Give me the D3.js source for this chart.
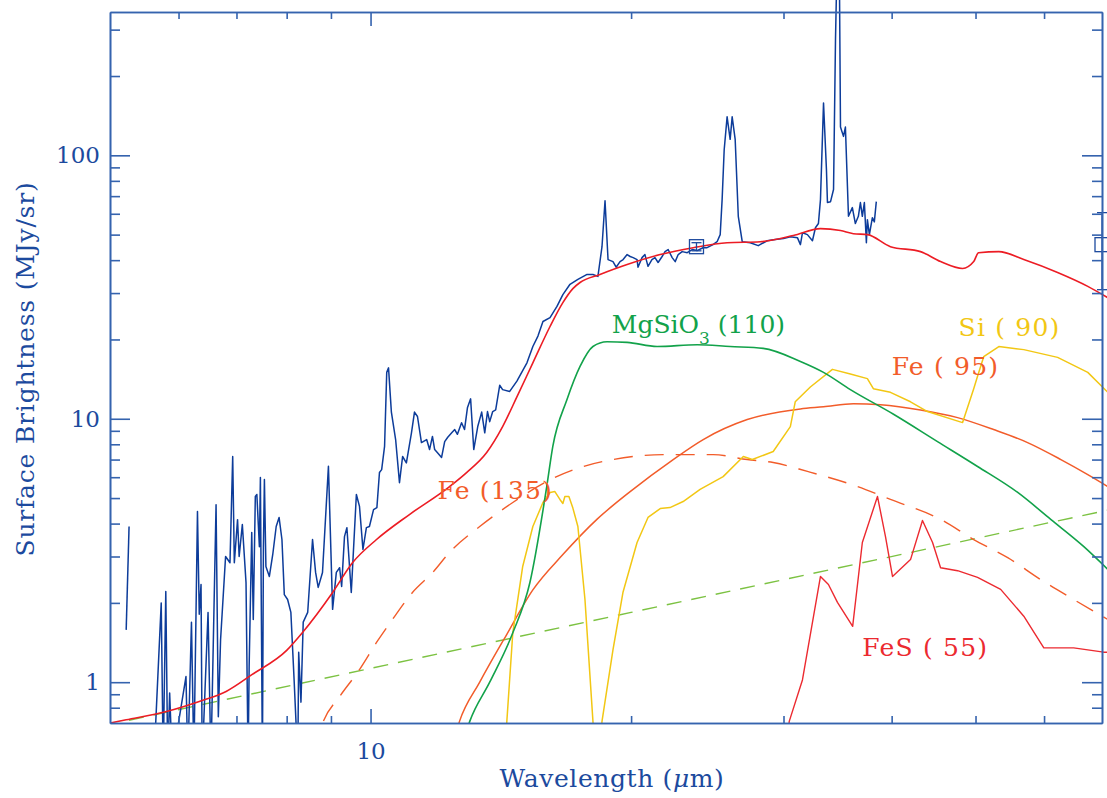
<!DOCTYPE html>
<html>
<head>
<meta charset="utf-8">
<script src="https://cdn.jsdelivr.net/npm/d3@7"></script>
<style>
  body { margin: 0; background: #fff; }
  svg { display: block; }
</style>
</head>
<body>
<svg id="chart" width="1107" height="798"></svg>
<script>
// ---- data (wavelength in micron, surface brightness in MJy/sr) ----
var spectrumStart = [[5.22, 1.58], [5.26, 3.9]];
var spectrum = [
  [5.62,0.5],[5.73,2.0],[5.76,0.5],[5.80,2.21],[5.83,0.5],[5.86,0.91],[5.90,0.5],[6.12,1.05],[6.15,0.5],
  [6.21,1.69],[6.25,0.5],[6.31,4.45],[6.34,1.81],[6.37,2.35],[6.39,0.5],[6.49,1.84],[6.54,0.5],[6.63,4.72],
  [6.67,0.74],[6.71,1.45],[6.80,3.0],[6.88,2.84],[6.93,7.19],[6.96,2.84],[7.02,4.14],[7.05,3.0],[7.11,3.97],
  [7.18,2.39],[7.22,0.5],[7.24,1.15],[7.29,3.70],[7.32,1.73],[7.36,5.07],[7.39,5.16],[7.44,3.27],[7.46,5.98],
  [7.50,0.5],[7.52,3.24],[7.54,5.88],[7.57,2.75],[7.64,2.52],[7.71,3.06],[7.78,3.90],[7.84,4.22],[7.90,3.48],
  [7.95,2.15],[8.02,2.06],[8.09,1.84],[8.16,1.02],[8.24,0.5],[8.26,1.30],[8.31,0.84],[8.36,1.69],[8.46,1.84],
  [8.57,3.48],[8.64,2.61],[8.70,2.29],[8.80,2.61],[8.94,6.6],[9.04,1.89],[9.13,2.61],[9.21,2.72],[9.26,2.31],
  [9.33,3.57],[9.39,3.86],[9.50,2.19],[9.63,5.16],[9.71,4.65],[9.80,3.19],[9.89,3.86],[9.97,3.90],[10.08,4.52],
  [10.17,4.60],[10.24,6.25],[10.30,6.41],[10.38,7.85],[10.44,15.0],[10.49,15.6],[10.57,10.6],[10.69,8.34],
  [10.80,5.72],[10.89,7.19],[11.00,6.8],[11.15,8.84],[11.24,10.6],[11.33,10.2],[11.45,8.12],[11.61,8.34],
  [11.70,7.64],[11.79,8.57],[11.86,7.64],[11.95,7.43],[12.08,7.13],[12.18,8.19],[12.28,8.51],[12.41,8.84],
  [12.51,9.1],[12.60,8.73],[12.74,9.66],[12.84,9.1],[12.94,11.0],[13.05,11.9],[13.16,7.64],[13.30,9.34],
  [13.44,10.6],[13.55,8.84],[13.65,10.65],[13.73,9.75],[13.84,10.65],[13.95,10.8],[14.10,13.4],[14.21,12.9],
  [14.48,12.7],[14.76,13.9],[15.16,16.3],[15.40,18.8],[15.61,20.6],[15.82,23.4],[16.12,24.2],[16.42,26.7],
  [16.68,29.6],[17.00,32.4],[17.36,33.8],[17.79,35.3],[18.07,35.3],[18.31,34.7],[18.51,45.0],[18.66,67.2],
  [18.81,40.2],[19.06,39.5],[19.22,37.6],[19.42,39.5],[19.58,40.2],[19.79,42.0],[19.95,41.3],[20.11,40.9],
  [20.32,40.2],[20.37,37.6],[20.59,40.9],[20.75,42.0],[20.92,37.9],[21.14,40.2],[21.31,40.9],[21.49,39.2],
  [21.72,41.3],[21.89,43.1],[22.07,43.9],[22.31,40.9],[22.49,39.5],[22.67,42.0],[22.91,43.1],[23.22,42.7],
  [23.53,43.9],[23.84,43.5],[24.22,44.6],[24.48,44.6],[24.87,45.8],[25.14,47.0],[25.35,50.0],[25.48,67.9],
  [25.62,105],[25.82,140],[26.03,115],[26.17,140],[26.38,115],[26.60,58.7],[26.88,47.0],[27.46,46.6],
  [28.05,45.4],[28.72,47.4],[29.34,47.9],[30.0,48.3],[30.55,49.1],[31.13,48.7],[31.38,45.8],[31.55,50.8],
  [31.97,50.0],[32.40,47.4],[32.66,53.1],[32.92,55.1],[33.10,67.9],[33.37,158],[33.63,88.3],[33.72,66.2],
  [34.0,66.7],[34.27,74.2],[34.45,275],[34.54,420],[34.82,420],[34.91,128],[35.19,118],[35.37,128],
  [35.66,58.7],[36.03,63.3],[36.32,55.1],[36.61,58.7],[36.81,66.2],[37.0,58.7],[37.2,66.2],[37.4,46.6],
  [37.5,57.0],[37.7,50.0],[38.0,58.0],[38.2,55.9],[38.4,66.7]
];
var totalModel = [
  [5.0,0.70],[5.22,0.72],[5.81,0.774],[6.34,0.845],[6.81,0.922],[7.30,1.07],[8.00,1.32],[8.34,1.54],
  [9.04,2.19],[9.53,2.84],[10.16,3.48],[11.09,4.33],[12.34,5.53],[12.91,6.25],[13.62,7.45],[14.21,9.34],
  [14.76,12.1],[15.40,16.3],[16.12,22.4],[16.68,27.6],[17.13,31.2],[17.46,32.9],[18.41,35.3],[19.79,38.5],
  [21.61,42.0],[23.59,44.6],[25.82,46.6],[28.20,47.0],[30.79,49.6],[33.10,52.7],[34.91,51.8],[36.13,50.4],
  [37.51,50.0],[39.87,45.0],[43.19,43.1],[45.56,39.5],[48.31,37.2],[49.76,39.5],[50.4,42.7],[53.2,43.1],
  [56.85,40.2],[62.2,35.9],[67.4,31.8],[71.1,28.8]
];
var mgsio3 = [
  [12.6,0.5],[13.02,0.71],[13.73,1.0],[14.60,1.54],[15.28,2.39],[15.98,5.53],[16.24,7.85],[16.86,11.8],
  [17.46,15.8],[18.07,18.8],[18.76,19.6],[19.79,19.5],[21.43,18.8],[23.84,19.1],[26.03,18.8],[28.42,18.5],
  [31.38,16.5],[33.37,15.0],[35.84,12.9],[40.20,10.4],[45.19,8.19],[50.27,6.59],[55.94,5.25],[61.07,4.15],
  [66.70,3.27],[71.1,2.68]
];
var fe95 = [
  [12.3,0.5],[12.67,0.71],[13.37,1.0],[14.37,1.52],[15.40,2.24],[16.68,3.05],[18.26,4.15],[19.95,5.29],
  [22.37,7.00],[24.23,8.34],[27.24,9.93],[31.38,10.9],[33.37,11.1],[36.13,11.4],[38.83,11.3],[43.19,10.8],
  [47.67,10.1],[52.46,9.1],[57.43,8.12],[62.75,7.00],[67.4,6.14],[71.1,5.53]
];
var fe135 = [
  [8.6,0.55],[8.82,0.71],[9.21,0.882],[9.71,1.117],[10.16,1.415],[10.60,1.73],[11.18,2.19],[11.80,2.61],
  [12.34,3.11],[13.37,3.90],[14.60,4.81],[15.98,5.78],[17.46,6.53],[19.06,7.00],[21.78,7.31],[24.88,7.31],
  [27.24,7.00],[29.19,6.82],[31.97,6.31],[36.52,5.53],[39.87,4.94],[45.56,4.15],[49.76,3.48],[54.47,2.97],
  [59.48,2.45],[64.92,2.06],[71.1,1.73]
];
var si90 = [
  [14.3,0.5],[14.37,0.71],[14.60,1.54],[14.99,2.75],[15.40,3.90],[15.82,4.81],[16.12,5.25],[16.33,5.29],
  [16.55,4.94],[16.68,4.77],[16.77,5.07],[16.95,5.07],[17.13,4.58],[17.36,3.90],[17.69,2.06],[18.07,0.71],
  [18.25,0.4],[18.51,0.71],[19.06,1.33],[19.57,2.19],[20.32,3.39],[20.92,4.22],[21.61,4.56],[22.18,4.60],
  [22.97,4.85],[24.03,5.39],[25.55,6.03],[26.96,7.19],[27.61,7.00],[29.19,7.51],[30.55,9.34],[30.95,11.6],
  [32.22,13.2],[34.17,15.4],[35.84,14.8],[37.5,14.2],[38.1,13.0],[39.87,12.6],[42.06,11.6],[44.0,10.65],
  [48.31,9.67],[49.76,13.0],[50.27,14.5],[51.1,17.2],[53.2,18.8],[56.85,18.3],[62.2,17.1],[67.4,15.0],
  [71.1,12.6]
];
var fes55 = [
  [30.2,0.5],[30.46,0.71],[31.55,1.02],[33.10,2.52],[33.81,2.35],[34.63,2.01],[36.06,1.63],[37.0,3.39],
  [38.52,5.07],[39.35,3.57],[40.09,2.52],[42.06,2.92],[43.42,4.11],[44.6,3.39],[45.56,2.72],[47.67,2.65],
  [50.27,2.50],[53.46,2.25],[56.85,1.78],[59.96,1.35],[64.92,1.35],[70.3,1.30],[71.1,1.30]
];
var powerLaw = [[5.26,0.717],[20,1.84],[71.1,4.50]];
var photWave = [23.8, 70];
var photFlux = [45.0, 45.8];
var photLow = [43.4, 30.9];
var photHigh = [46.6, 60.6];

var xMajor = [10];
var xMinor = [6, 7, 8, 9, 20, 30, 40, 50, 60];
var yMajor = [1, 10, 100];
var yMinor = [0.8, 0.9, 2, 3, 4, 5, 6, 7, 8, 9, 20, 30, 40, 50, 60, 70, 80, 90, 200, 300];

// ---- setup ----
var svg = d3.select('#chart');
var padLeft = 110, padRight = 1102, padTop = 12, padBottom = 723;
var axisColor = '#3563ae', textColor = '#1c4a9e';
var fontFam = '"DejaVu Serif", serif';

var x = d3.scaleLog().domain([5, 70]).range([padLeft, padRight]);
var y = d3.scaleLog().domain([0.7, 350]).range([padBottom, padTop]);

svg.append('defs').append('clipPath').attr('id', 'clip')
  .append('rect').attr('x', padLeft).attr('y', 0).attr('width', 1107 - padLeft).attr('height', padBottom);

var line = d3.line().x(function(d) { return x(d[0]); }).y(function(d) { return y(d[1]); });
var smooth = d3.line().curve(d3.curveMonotoneX)
  .x(function(d) { return x(d[0]); }).y(function(d) { return y(d[1]); });
var plot = svg.append('g').attr('clip-path', 'url(#clip)');

function drawCurve(data, color, width, dash, gen) {
  plot.append('path')
    .datum(data)
    .attr('d', gen || line)
    .attr('fill', 'none')
    .attr('stroke', color)
    .attr('stroke-width', width)
    .attr('stroke-linejoin', 'round')
    .attr('stroke-dasharray', dash || null);
}

drawCurve(powerLaw, '#7cc242', 1.4, '15,10');
drawCurve(fe135, '#f25c2a', 1.4, '19,12', smooth);
drawCurve(fe95, '#f25c2a', 1.5, null, smooth);
drawCurve(si90, '#f2c714', 1.5);
drawCurve(mgsio3, '#12a24a', 1.6, null, smooth);
drawCurve(fes55, '#ec2a30', 1.4);
drawCurve(spectrumStart, '#0d3c9a', 1.5);
drawCurve(spectrum, '#0d3c9a', 1.5);
drawCurve(totalModel, '#ec1c24', 1.6, null, smooth);

// photometry points with error bars
photWave.forEach(function(w, i) {
  var g = plot.append('g').attr('stroke', '#1d4a9e').attr('stroke-width', 1.3).attr('fill', 'none');
  var cx = x(w), cy = y(photFlux[i]);
  g.append('line').attr('x1', cx).attr('x2', cx).attr('y1', y(photLow[i])).attr('y2', y(photHigh[i]));
  g.append('line').attr('x1', cx - 5).attr('x2', cx + 5).attr('y1', y(photLow[i])).attr('y2', y(photLow[i]));
  g.append('line').attr('x1', cx - 5).attr('x2', cx + 5).attr('y1', y(photHigh[i])).attr('y2', y(photHigh[i]));
  g.append('rect').attr('x', cx - 7).attr('y', cy - 7).attr('width', 14).attr('height', 14);
});

// ---- axes ----
function styleAxis(g) {
  g.attr('color', axisColor).attr('font-family', fontFam).attr('font-size', 23);
  g.selectAll('path, line').attr('stroke-width', 1.6);
  g.selectAll('text').attr('fill', textColor);
}
svg.append('g').attr('transform', 'translate(0,' + padBottom + ')')
  .call(d3.axisBottom(x).tickValues(xMinor).tickSize(-7).tickSizeOuter(0).tickFormat(''))
  .call(styleAxis);
svg.append('g').attr('transform', 'translate(0,' + padBottom + ')')
  .call(d3.axisBottom(x).tickValues(xMajor).tickSize(-14).tickSizeOuter(0).tickPadding(20).tickFormat(d3.format('d')))
  .call(styleAxis);
svg.append('g').attr('transform', 'translate(0,' + padTop + ')')
  .call(d3.axisTop(x).tickValues(xMinor).tickSize(-7).tickSizeOuter(0).tickFormat(''))
  .call(styleAxis);
svg.append('g').attr('transform', 'translate(0,' + padTop + ')')
  .call(d3.axisTop(x).tickValues(xMajor).tickSize(-14).tickSizeOuter(0).tickFormat(''))
  .call(styleAxis);
svg.append('g').attr('transform', 'translate(' + padLeft + ',0)')
  .call(d3.axisLeft(y).tickValues(yMinor).tickSize(-10).tickSizeOuter(0).tickFormat(''))
  .call(styleAxis);
svg.append('g').attr('transform', 'translate(' + padLeft + ',0)')
  .call(d3.axisLeft(y).tickValues(yMajor).tickSize(-20).tickSizeOuter(0).tickPadding(10).tickFormat(d3.format('d')))
  .call(styleAxis);
svg.append('g').attr('transform', 'translate(' + padRight + ',0)')
  .call(d3.axisRight(y).tickValues(yMinor).tickSize(-10).tickSizeOuter(0).tickFormat(''))
  .call(styleAxis);
svg.append('g').attr('transform', 'translate(' + padRight + ',0)')
  .call(d3.axisRight(y).tickValues(yMajor).tickSize(-20).tickSizeOuter(0).tickFormat(''))
  .call(styleAxis);

// axis titles
svg.append('text')
  .attr('x', 612).attr('y', 787)
  .attr('text-anchor', 'middle')
  .attr('font-family', fontFam).attr('font-size', 25).attr('letter-spacing', 0.6).attr('fill', textColor)
  .html('Wavelength (<tspan font-style="italic">μ</tspan>m)');
svg.append('text')
  .attr('transform', 'translate(34,369) rotate(-90)')
  .attr('text-anchor', 'middle')
  .attr('font-family', fontFam).attr('font-size', 25).attr('letter-spacing', 0.8).attr('fill', textColor)
  .text('Surface Brightness (MJy/sr)');

// ---- component labels ----
var labels = [
  {text: 'MgSiO', sub: '3', rest: ' (110)', wave: 19.0, flux: 21.2, color: '#12a24a'},
  {text: 'Si ( 90)', wave: 47.8, flux: 20.7, color: '#f2c714'},
  {text: 'Fe ( 95)', wave: 40.0, flux: 14.6, color: '#f25c2a'},
  {text: 'Fe (135)', wave: 11.95, flux: 4.94, color: '#f25c2a'},
  {text: 'FeS ( 55)', wave: 37.0, flux: 1.26, color: '#ec2a30'}
];
labels.forEach(function(l) {
  var t = svg.append('text')
    .attr('x', x(l.wave)).attr('y', y(l.flux))
    .attr('font-family', fontFam).attr('font-size', 25).attr('fill', l.color)
    .attr('letter-spacing', l.sub ? 0 : 1.2)
    .attr('xml:space', 'preserve')
    .style('white-space', 'pre');
  t.append('tspan').text(l.text);
  if (l.sub) {
    t.append('tspan').attr('font-size', 17).attr('dy', 11).text(l.sub);
    t.append('tspan').attr('dy', -11).text(l.rest);
  }
});
</script>
</body>
</html>
